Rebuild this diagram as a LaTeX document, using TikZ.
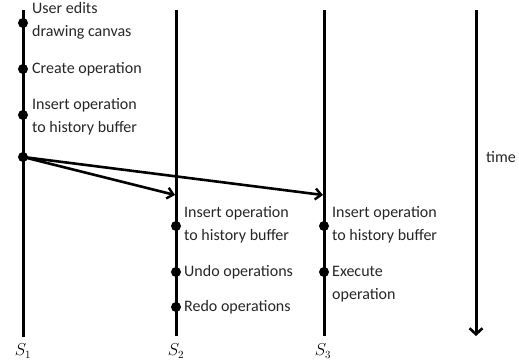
\documentclass[tikz,border=0pt]{standalone}
\usepackage{fontspec}
\setmainfont{Carlito}
\usetikzlibrary{arrows.meta}
\begin{document}
\begin{tikzpicture}[x=1pt,y=-1pt,
  lifeline/.style={line width=3pt},
  event/.style={circle,fill=black,inner sep=0pt,minimum size=10pt},
  msg/.style={line width=2.6pt,-{Straight Barb[length=6pt,width=11pt,line width=2.4pt]}},
  note/.style={anchor=west,align=left,font=\fontsize{16}{23}\selectfont,text=black!85,inner sep=0pt},
  proc/.style={font=\fontsize{16}{16}\selectfont}]
\useasboundingbox (0,0) rectangle (519,362);
% lifelines of the three sites
\coordinate (t1) at (23,10);  \coordinate (b1) at (23,337);
\coordinate (t2) at (176,10); \coordinate (b2) at (176,336);
\coordinate (t3) at (324,10); \coordinate (b3) at (324,336);
\draw[lifeline] (t1) -- (b1);
\draw[lifeline] (t2) -- (b2);
\draw[lifeline] (t3) -- (b3);
% site S1
\node[event] (a1) at (23,23) {};
\node[event] (a2) at (23,69) {};
\node[event] (a3) at (23,115) {};
\node[event] (a4) at (23,157) {};
\node[note] (la1) at (32,21) {User edits\\drawing canvas};
\node[note] (la2) at (32,69) {Create operation};
\node[note] (la3) at (32,117) {Insert operation\\to history buffer};
% site S2
\node[event] (c1) at (176,226) {};
\node[event] (c2) at (176,272) {};
\node[event] (c3) at (176,307) {};
\node[note] (lc1) at (184,225) {Insert operation\\to history buffer};
\node[note] (lc2) at (184,272) {Undo operations};
\node[note] (lc3) at (184,307) {Redo operations};
% site S3
\node[event] (d1) at (324,226) {};
\node[event] (d2) at (324,272) {};
\node[note] (ld1) at (332,225) {Insert operation\\to history buffer};
\node[note] (ld2) at (332,284) {Execute\\operation};
% propagation of the operation
\coordinate (r2) at (175,195);
\coordinate (r3) at (323,195);
\draw[msg] (a4.center) -- (r2);
\draw[msg] (a4.center) -- (r3);
% time axis
\coordinate (tt) at (476,10);
\coordinate (tb) at (476,336);
\draw[lifeline,-{Straight Barb[length=6pt,width=13pt,line width=2.6pt]}] (tt) -- (tb);
\node[note] (time) at (486,157) {time};
% site labels
\node[proc] (s1) at (23,351) {$S_1$};
\node[proc] (s2) at (176,351) {$S_2$};
\node[proc] (s3) at (323,351) {$S_3$};
\end{tikzpicture}
\end{document}
